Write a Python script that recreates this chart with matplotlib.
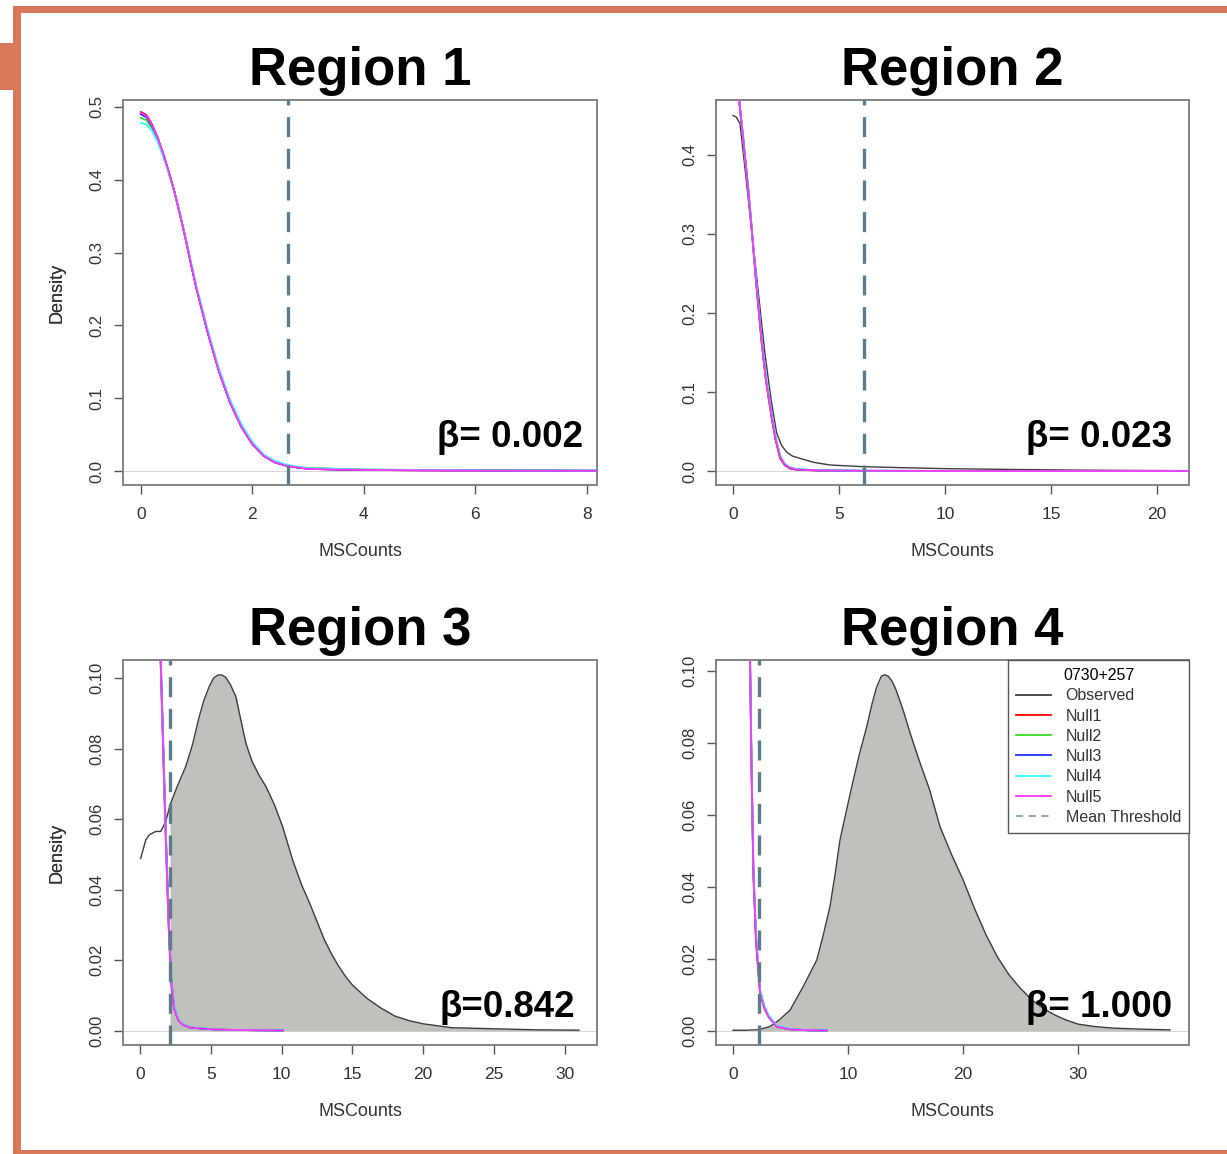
# density plots of MSCounts, observed vs 5 nulls, four regions
import matplotlib
matplotlib.use("Agg")
import matplotlib.pyplot as plt
from matplotlib.lines import Line2D
from matplotlib.patches import Rectangle

plt.rcParams['font.family'] = ['Liberation Sans', 'DejaVu Sans']

# ---- data ----
titles = ['Region 1', 'Region 2', 'Region 3', 'Region 4']
betas = ['β= 0.002', 'β= 0.023', 'β=0.842', 'β= 1.000']
thresholds = [2.64, 6.18, 2.12, 2.26]
null_names = ['Null1', 'Null2', 'Null3', 'Null4', 'Null5']
legend_title = '0730+257'

# Region 1
r1_x = [0, 0.1, 0.2, 0.3, 0.4, 0.5, 0.6, 0.7, 0.8, 0.9, 1.0, 1.2, 1.4, 1.6, 1.8,
        2.0, 2.2, 2.4, 2.6, 2.8, 3.0, 3.5, 4.0, 5.0, 6.0, 7.4, 8.5]
r1_obs = [0.493, 0.489, 0.476, 0.458, 0.436, 0.411, 0.384, 0.353, 0.320, 0.284, 0.250,
          0.190, 0.137, 0.094, 0.061, 0.037, 0.021, 0.012, 0.008, 0.005, 0.004, 0.003,
          0.002, 0.0015, 0.001, 0.0006, 0.0004]
r1_nulls = [
    [0.493, 0.489, 0.476, 0.458, 0.436, 0.411, 0.384, 0.353, 0.320, 0.284, 0.250,
     0.190, 0.137, 0.094, 0.061, 0.037, 0.021, 0.012, 0.0075, 0.005, 0.003, 0.002,
     0.0015, 0.001, 0.0007, 0.0005, 0.0003],
    [0.485, 0.482, 0.471, 0.455, 0.434, 0.410, 0.384, 0.353, 0.320, 0.285, 0.251,
     0.192, 0.139, 0.096, 0.063, 0.039, 0.022, 0.013, 0.008, 0.005, 0.004, 0.003,
     0.002, 0.0015, 0.001, 0.0008, 0.0005],
    [0.490, 0.486, 0.474, 0.457, 0.435, 0.411, 0.384, 0.353, 0.320, 0.284, 0.250,
     0.190, 0.137, 0.094, 0.061, 0.037, 0.021, 0.012, 0.0075, 0.005, 0.003, 0.002,
     0.0015, 0.001, 0.0007, 0.0005, 0.0003],
    [0.478, 0.476, 0.467, 0.452, 0.432, 0.409, 0.383, 0.353, 0.321, 0.287, 0.253,
     0.194, 0.141, 0.098, 0.065, 0.040, 0.023, 0.014, 0.009, 0.006, 0.004, 0.003,
     0.002, 0.0015, 0.001, 0.0008, 0.0005],
    [0.492, 0.488, 0.475, 0.458, 0.436, 0.411, 0.384, 0.353, 0.320, 0.284, 0.250,
     0.190, 0.137, 0.094, 0.061, 0.037, 0.021, 0.012, 0.0075, 0.005, 0.003, 0.002,
     0.0015, 0.001, 0.0007, 0.0005, 0.0003],
]

# Region 2
r2_obs_x = [0.0, 0.15, 0.33, 0.6, 0.9, 1.2, 1.5, 1.8, 2.06, 2.3, 2.53, 2.8, 3.16,
            3.8, 4.58, 6.13, 8, 10, 13, 16, 19, 21.5]
r2_obs = [0.450, 0.448, 0.440, 0.375, 0.300, 0.225, 0.150, 0.090, 0.048, 0.032,
          0.024, 0.019, 0.016, 0.011, 0.0076, 0.0055, 0.0042, 0.003, 0.002, 0.0012,
          0.0007, 0.0004]
r2_x = [0.2, 0.3, 0.5, 0.72, 0.9, 1.12, 1.35, 1.56, 1.83, 2.0, 2.22, 2.45, 2.69,
        3.0, 4.0, 6.0, 10.0, 15.0, 21.5]
r2_nulls = [
    [0.50, 0.467, 0.415, 0.355, 0.300, 0.230, 0.163, 0.113, 0.066, 0.040, 0.016,
     0.007, 0.003, 0.0015, 0.0006, 0.0002, 0.0001, 0.0, 0.0],
    [0.50, 0.467, 0.415, 0.356, 0.301, 0.232, 0.165, 0.115, 0.068, 0.042, 0.018,
     0.008, 0.004, 0.002, 0.0008, 0.0003, 0.0001, 0.0, 0.0],
    [0.50, 0.468, 0.416, 0.357, 0.302, 0.233, 0.166, 0.116, 0.069, 0.043, 0.018,
     0.008, 0.004, 0.002, 0.0008, 0.0003, 0.0001, 0.0, 0.0],
    [0.50, 0.468, 0.416, 0.358, 0.303, 0.234, 0.168, 0.118, 0.071, 0.045, 0.020,
     0.009, 0.005, 0.0025, 0.001, 0.0004, 0.0001, 0.0, 0.0],
    [0.50, 0.467, 0.415, 0.356, 0.301, 0.232, 0.165, 0.115, 0.068, 0.042, 0.018,
     0.008, 0.004, 0.002, 0.0008, 0.0003, 0.0001, 0.0, 0.0],
]

# Region 3
r3_obs_x = [0.05, 0.4, 0.64, 1.1, 1.46, 1.82, 2.12, 2.6, 3.23, 3.7, 4.18, 4.5, 4.88,
            5.2, 5.47, 5.75, 6.06, 6.4, 6.77, 7.1, 7.48, 7.9, 8.4, 8.9, 9.5, 10.07,
            10.78, 11.4, 12, 12.5, 13, 13.5, 14, 14.5, 15, 16, 17, 18, 19, 20, 22,
            25, 28, 31]
r3_obs = [0.0489, 0.054, 0.0555, 0.0565, 0.0565, 0.0593, 0.064, 0.069, 0.0749, 0.081,
          0.089, 0.0935, 0.0975, 0.1000, 0.1008, 0.1009, 0.1002, 0.098, 0.0947, 0.0885,
          0.0815, 0.0765, 0.0725, 0.0692, 0.064, 0.0579, 0.0484, 0.0415, 0.036, 0.031,
          0.026, 0.022, 0.0185, 0.0155, 0.013, 0.0093, 0.0065, 0.0042, 0.0029, 0.002,
          0.0009, 0.0006, 0.0003, 0.0002]
r3_x = [1.40, 1.46, 1.6, 1.75, 1.93, 2.05, 2.2, 2.4, 2.7, 3.0, 3.5, 4.5, 6.0, 8.0, 10.1]
r3_nulls = [
    [0.115, 0.1046, 0.085, 0.064, 0.041, 0.027, 0.014, 0.0065, 0.003, 0.0018, 0.001,
     0.0006, 0.0003, 0.0002, 0.0001],
    [0.116, 0.1050, 0.086, 0.065, 0.042, 0.028, 0.015, 0.0070, 0.0032, 0.0019, 0.001,
     0.0006, 0.0003, 0.0002, 0.0001],
    [0.117, 0.1060, 0.087, 0.066, 0.043, 0.029, 0.015, 0.0070, 0.0032, 0.0019, 0.001,
     0.0006, 0.0003, 0.0002, 0.0001],
    [0.116, 0.1052, 0.086, 0.065, 0.042, 0.028, 0.015, 0.0072, 0.0034, 0.0020, 0.0011,
     0.0007, 0.0003, 0.0002, 0.0001],
    [0.115, 0.1046, 0.085, 0.064, 0.041, 0.027, 0.014, 0.0065, 0.003, 0.0018, 0.001,
     0.0006, 0.0003, 0.0002, 0.0001],
]

# Region 4
r4_obs_x = [0, 1, 2, 2.26, 3.2, 4.0, 4.96, 6.1, 7.28, 7.8, 8.43, 8.9, 9.3, 9.85,
            10.46, 11.0, 11.63, 12.1, 12.5, 12.9, 13.2, 13.5, 13.85, 14.2, 14.8, 15.4,
            16.2, 17.1, 18.0, 19, 20, 21, 22, 23, 24, 25, 26, 27, 28, 29, 30, 31.5,
            33, 35.5, 38]
r4_obs = [0.0002, 0.0002, 0.0003, 0.0004, 0.0012, 0.003, 0.0058, 0.0123, 0.0197,
          0.026, 0.0345, 0.044, 0.053, 0.061, 0.0697, 0.077, 0.0845, 0.091, 0.0956,
          0.0985, 0.0989, 0.0985, 0.097, 0.0945, 0.089, 0.0827, 0.075, 0.0669, 0.0567,
          0.049, 0.042, 0.034, 0.0267, 0.0205, 0.0156, 0.0118, 0.0086, 0.0062, 0.0044,
          0.003, 0.0019, 0.0012, 0.0008, 0.0005, 0.0003]
r4_x = [1.42, 1.48, 1.6, 1.77, 2.0, 2.35, 2.7, 3.07, 3.8, 5.0, 6.5, 8.15]
r4_nulls = [
    [0.112, 0.1026, 0.075, 0.0438, 0.025, 0.0105, 0.0065, 0.0040, 0.0012, 0.0004, 0.0002, 0.0001],
    [0.113, 0.1030, 0.076, 0.0445, 0.026, 0.0110, 0.0068, 0.0042, 0.0013, 0.0004, 0.0002, 0.0001],
    [0.113, 0.1032, 0.076, 0.0448, 0.026, 0.0112, 0.0070, 0.0043, 0.0014, 0.0005, 0.0002, 0.0001],
    [0.114, 0.1035, 0.077, 0.0450, 0.027, 0.0115, 0.0072, 0.0045, 0.0015, 0.0005, 0.0002, 0.0001],
    [0.112, 0.1026, 0.075, 0.0438, 0.025, 0.0105, 0.0065, 0.0040, 0.0012, 0.0004, 0.0002, 0.0001],
]

obs_x = [r1_x, r2_obs_x, r3_obs_x, r4_obs_x]
obs_y = [r1_obs, r2_obs, r3_obs, r4_obs]
null_x = [r1_x, r2_x, r3_x, r4_x]
null_y = [r1_nulls, r2_nulls, r3_nulls, r4_nulls]
shaded = [False, False, True, True]

xlims = [(-0.32, 8.18), (-0.8, 21.5), (-1.2, 32.27), (-1.48, 39.65)]
ylims = [(-0.0192, 0.5096), (-0.0177, 0.4696), (-0.004, 0.1051), (-0.0039, 0.103)]
xticks = [[0, 2, 4, 6, 8], [0, 5, 10, 15, 20], [0, 5, 10, 15, 20, 25, 30], [0, 10, 20, 30]]
yticks = [[0, 0.1, 0.2, 0.3, 0.4, 0.5], [0, 0.1, 0.2, 0.3, 0.4],
          [0, 0.02, 0.04, 0.06, 0.08, 0.10], [0, 0.02, 0.04, 0.06, 0.08, 0.10]]
ytick_fmt = ['{:.1f}', '{:.1f}', '{:.2f}', '{:.2f}']

null_colors = ['#ff0000', '#33dd22', '#2233ff', '#33ffff', '#ff33ff']
obs_color = '#3c3c3c'
fill_color = '#c0c0bd'
thr_color = '#5e7b8a'
orange = '#da7659'

W, H = 1227, 1154
# axes boxes in pixels: left, top, right, bottom
boxes = [(123, 100, 597, 485), (716, 100, 1189, 485),
         (123, 660, 597, 1045), (716, 660, 1189, 1045)]
beta_pos = [(0.970, 0.099), (0.964, 0.099), (0.954, 0.073), (0.964, 0.073)]

fig = plt.figure(figsize=(W / 100, H / 100), dpi=100)

# orange frame around the figure
for (x0, y0, x1, y1) in [(13, 6, W, 13), (13, 6, 21, H), (13, 1150, W, H), (0, 43, 13, 90)]:
    fig.patches.append(Rectangle((x0 / W, 1 - y1 / H), (x1 - x0) / W, (y1 - y0) / H,
                                 transform=fig.transFigure, color=orange, lw=0))

for i in range(4):
    l, t, r, b = boxes[i]
    ax = fig.add_axes([l / W, 1 - b / H, (r - l) / W, (b - t) / H])

    ax.axhline(0, color='#d0d0d0', lw=0.6, zorder=1)

    xo, yo = obs_x[i], obs_y[i]
    if shaded[i]:
        ax.fill_between(xo, 0, yo, where=[v >= thresholds[i] for v in xo],
                        color=fill_color, lw=0, zorder=2)
    ax.plot(xo, yo, color=obs_color, lw=1.0, zorder=3)
    for k in range(5):
        ax.plot(null_x[i], null_y[i][k], color=null_colors[k], lw=1.3, zorder=4)

    ax.axvline(thresholds[i], color=thr_color, lw=2.4, dashes=(6, 3.5), zorder=5)

    ax.set_xlim(*xlims[i])
    ax.set_ylim(*ylims[i])
    ax.set_xticks(xticks[i])
    ax.set_yticks(yticks[i], [ytick_fmt[i].format(v) for v in yticks[i]],
                  rotation=90, va='center')
    ax.tick_params(direction='out', length=6.5, width=1, color='#555555',
                   labelcolor='#333333')
    ax.tick_params(axis='x', labelsize=12.5, pad=9)
    ax.tick_params(axis='y', labelsize=12, pad=7)
    for s in ax.spines.values():
        s.set_color('#7a7a7a')
        s.set_linewidth(1.3)

    ax.set_title(titles[i], fontsize=38, fontweight='bold', pad=11)
    ax.set_xlabel('MSCounts', fontsize=13, color='#333333', va='center')
    ax.xaxis.set_label_coords(0.5, -67 / (b - t))
    ax.set_ylabel('Density', fontsize=13, color='#333333', ha='center', va='center')
    ax.yaxis.set_label_coords(-(l - 57) / (r - l), 0.5)

    ax.text(beta_pos[i][0], beta_pos[i][1], betas[i], transform=ax.transAxes,
            ha='right', va='baseline', fontsize=26.5, fontweight='bold', zorder=6)

    if i == 3:
        handles = [Line2D([], [], color=obs_color, lw=1.3)]
        handles += [Line2D([], [], color=c, lw=1.3) for c in null_colors]
        handles.append(Line2D([], [], color='#8aa0ab', lw=1.3, dashes=(4, 3)))
        leg = ax.legend(handles, ['Observed'] + null_names + ['Mean Threshold'],
                        title=legend_title, loc='upper right', borderaxespad=0,
                        fontsize=11.5, title_fontsize=11.5, fancybox=False,
                        framealpha=1, edgecolor='#555555', handlelength=2.2,
                        handletextpad=0.9, labelspacing=0.33, borderpad=0.5)
        leg.get_frame().set_linewidth(1.0)
        for tx in leg.get_texts():
            tx.set_color('#333333')
        leg.set_zorder(10)

fig.savefig('out.png', dpi=100)
